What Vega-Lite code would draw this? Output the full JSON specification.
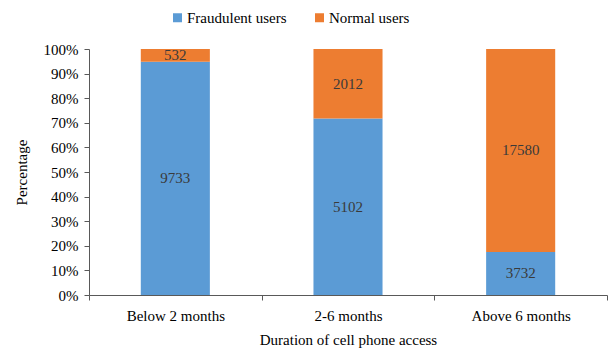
{
  "$schema": "https://vega.github.io/schema/vega-lite/v6.json",
  "width": 518,
  "height": 246,
  "autosize": {"type": "none"},
  "padding": {"left": 89, "top": 49, "right": 7, "bottom": 61},
  "background": "white",
  "config": {
    "font": "Liberation Serif",
    "view": {"stroke": null},
    "axis": {
      "labelFont": "Liberation Serif",
      "titleFont": "Liberation Serif",
      "labelFontSize": 15,
      "titleFontSize": 15,
      "titleFontWeight": "normal",
      "labelColor": "#000000",
      "titleColor": "#000000",
      "domainColor": "#595959",
      "tickColor": "#595959",
      "grid": false
    },
    "axisY": {
      "format": ".0%",
      "labelOverlap": false,
      "tickSize": 5,
      "labelPadding": 6,
      "titlePadding": 14
    }
  },
  "data": {
    "values": [
      {"duration": "Below 2 months", "type": "Fraudulent users", "count": 9733},
      {"duration": "Below 2 months", "type": "Normal users", "count": 532},
      {"duration": "2-6 months", "type": "Fraudulent users", "count": 5102},
      {"duration": "2-6 months", "type": "Normal users", "count": 2012},
      {"duration": "Above 6 months", "type": "Fraudulent users", "count": 3732},
      {"duration": "Above 6 months", "type": "Normal users", "count": 17580}
    ]
  },
  "transform": [
    {
      "stack": "count",
      "groupby": ["duration"],
      "sort": [{"field": "type", "order": "ascending"}],
      "offset": "normalize",
      "as": ["share0", "share1"]
    },
    {"calculate": "(datum.share0 + datum.share1) / 2", "as": "shareMid"}
  ],
  "encoding": {
    "x": {
      "field": "duration",
      "type": "nominal",
      "sort": ["Below 2 months", "2-6 months", "Above 6 months"],
      "scale": {"paddingInner": 0, "paddingOuter": 0},
      "axis": {
        "title": "Duration of cell phone access",
        "labelAngle": 0,
        "tickBand": "extent",
        "tickSize": 5,
        "labelPadding": 8,
        "titlePadding": 9
      }
    }
  },
  "layer": [
    {
      "mark": {"type": "bar", "width": {"band": 0.4}},
      "encoding": {
        "y": {
          "field": "share0",
          "type": "quantitative",
          "scale": {"domain": [0, 1]},
          "axis": {
            "title": "Percentage",
            "values": [0, 0.1, 0.2, 0.3, 0.4, 0.5, 0.6, 0.7, 0.8, 0.9, 1],
            "tickCount": 11,
            "labelOverlap": false
          }
        },
        "y2": {"field": "share1"},
        "color": {
          "field": "type",
          "type": "nominal",
          "scale": {
            "domain": ["Fraudulent users", "Normal users"],
            "range": ["#5B9BD5", "#ED7D31"]
          },
          "legend": {
            "title": null,
            "orient": "none",
            "direction": "horizontal",
            "legendX": 81,
            "legendY": -39,
            "padding": 0,
            "symbolType": "square",
            "symbolSize": 81,
            "symbolStrokeWidth": 0,
            "labelFont": "Liberation Serif",
            "labelFontSize": 15,
            "labelColor": "#000000",
            "labelOffset": 2,
            "columnPadding": 25
          }
        }
      }
    },
    {
      "mark": {"type": "text", "font": "Liberation Serif", "fontSize": 15, "color": "#3a3a3a", "baseline": "middle"},
      "encoding": {
        "y": {
          "field": "shareMid",
          "type": "quantitative",
          "axis": {
            "title": "Percentage",
            "values": [0, 0.1, 0.2, 0.3, 0.4, 0.5, 0.6, 0.7, 0.8, 0.9, 1],
            "tickCount": 11,
            "labelOverlap": false
          }
        },
        "text": {"field": "count", "type": "quantitative", "format": "d"}
      }
    }
  ]
}
